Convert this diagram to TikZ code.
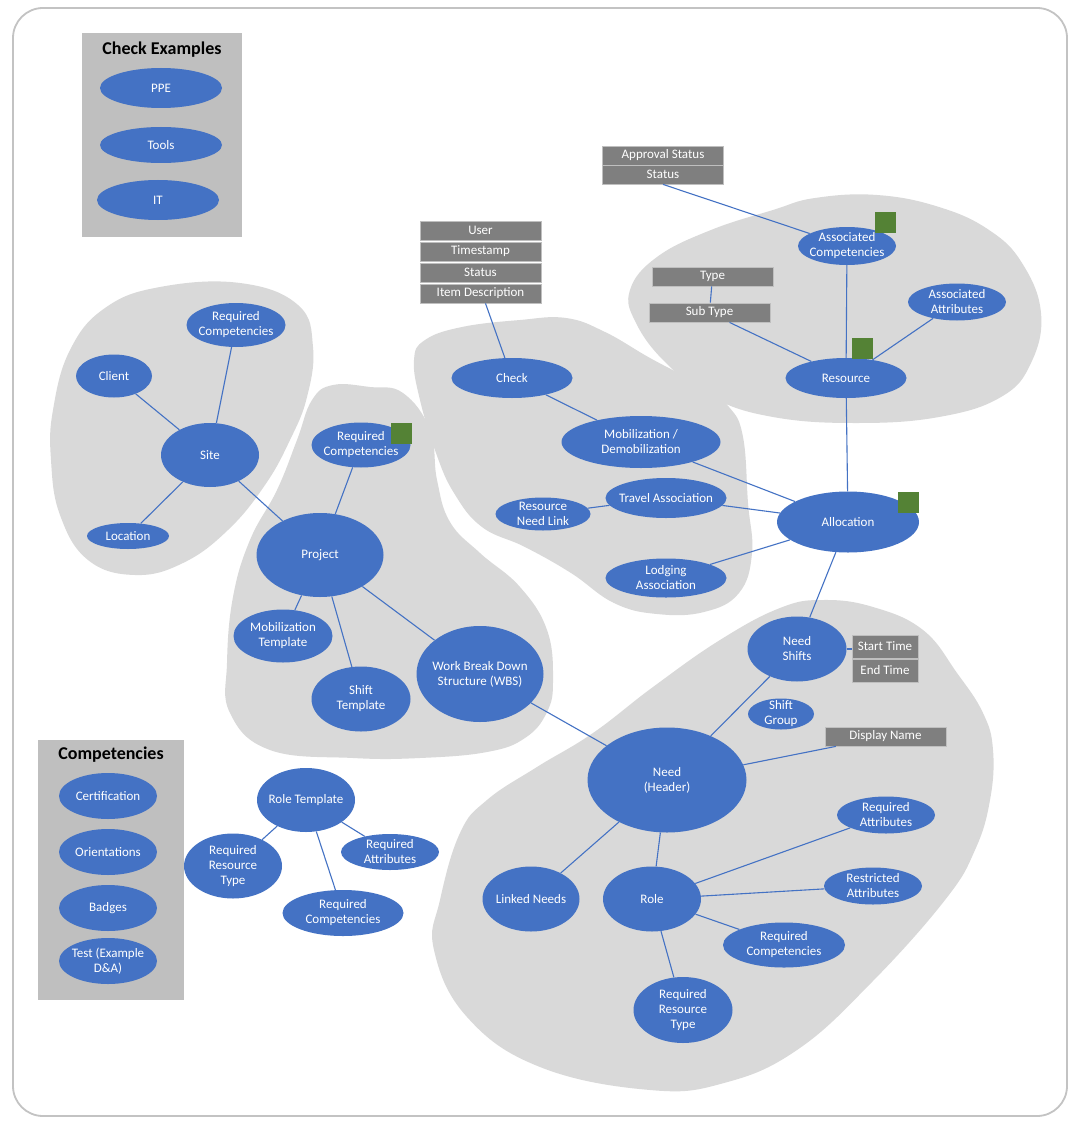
\documentclass[tikz,border=0pt]{standalone}
\usepackage{fontspec}
\setmainfont{Carlito}
\usetikzlibrary{shapes.geometric}
\definecolor{oblue}{RGB}{68,114,196}
\definecolor{blobgray}{RGB}{217,217,217}
\definecolor{leggray}{RGB}{191,191,191}
\definecolor{boxgray}{RGB}{127,127,127}
\definecolor{sqgreen}{RGB}{84,130,53}
\definecolor{framegray}{RGB}{195,195,195}
\tikzset{
  ent/.style={ellipse, fill=oblue, text=white, inner sep=-8pt, align=center,
    font=\fontsize{13}{15}\selectfont},
  attr/.style={rectangle, fill=boxgray, draw=leggray, line width=0.8pt, text=white,
    inner sep=0pt, font=\fontsize{13}{15}\selectfont, minimum height=19, minimum width=121},
  gsq/.style={rectangle, fill=sqgreen, inner sep=0pt, minimum size=21},
  conn/.style={draw=oblue, line width=1.1pt},
  blob/.style={fill=blobgray, draw=none},
  legend/.style={rectangle, fill=leggray, inner sep=0pt},
  legtitle/.style={font=\fontsize{18}{21}\selectfont\bfseries, text=black}
}
\begin{document}
\begin{tikzpicture}[x=1pt,y=-1pt]
\useasboundingbox (0,0) rectangle (1080,1134);
\fill[white] (0,0) rectangle (1080,1134);
\draw[framegray, line width=1.8pt, rounded corners=30] (13,8) rectangle (1067,1116);

% blobs
\path[blob] plot[smooth cycle, tension=0.7] coordinates {(240,283) (298,305) (313,347) (307,397) (290,440) (265,485) (228,530) (183,563) (135,575) (88,560) (60,515) (51,460) (53,410) (70,350) (105,308) (160,287)};
\path[blob] plot[smooth cycle, tension=0.7] coordinates {(333,385) (370,387) (403,393) (430,430) (437,480) (450,522) (480,553) (520,587) (547,630) (553,680) (547,712) (525,738) (487,752) (420,758) (353,758) (270,750) (230,713) (227,663) (233,597) (250,540) (277,490) (297,440) (312,400)};
\path[blob] plot[smooth cycle, tension=0.7] coordinates {(414,360) (420,400) (436,453) (454,493) (482,527) (525,547) (571,573) (614,603) (657,614) (704,612) (739,593) (752,553) (748,503) (743,437) (729,407) (700,385) (650,358) (605,332) (566,318) (520,320) (462,327) (425,340)};
\path[blob] plot[smooth cycle, tension=0.7] coordinates {(630,290) (657,257) (711,230) (773,210) (815,198) (877,195) (939,207) (989,230) (1022,263) (1041,313) (1031,363) (1001,397) (939,417) (856,423) (773,417) (711,397) (666,363) (636,323)};
\path[blob] plot[smooth cycle, tension=0.7] coordinates {(823,600) (873,607) (923,630) (957,673) (983,713) (993,750) (990,800) (975,850) (945,900) (871,983) (797,1050) (724,1083) (650,1090) (540,1067) (467,1017) (434,950) (440,900) (460,833) (487,800) (537,767) (593,733) (653,687) (720,640) (780,608)};

% legends
\node[legend, minimum width=160, minimum height=204] (chkbox) at (162,135) {};
\node[legtitle] (chktitle) at (162,50) {Check Examples};
\node[ent, minimum width=122, minimum height=40] (ppe) at (161,88) {PPE};
\node[ent, minimum width=122, minimum height=36] (tools) at (161,145) {Tools};
\node[ent, minimum width=122, minimum height=40] (it) at (158,200) {IT};

\node[legend, minimum width=146, minimum height=260] (compbox) at (111,870) {};
\node[legtitle] (comptitle) at (111,755) {Competencies};
\node[ent, minimum width=98, minimum height=46] (cert) at (108,796) {Certification};
\node[ent, minimum width=98, minimum height=46] (orient) at (108,852) {Orientations};
\node[ent, minimum width=98, minimum height=46] (badges) at (108,908) {Badges};
\node[ent, minimum width=98, minimum height=46] (test) at (108,961) {Test (Example\\D\&A)};

% attribute boxes
\node[attr] (appr) at (663,155.5) {Approval Status};
\node[attr] (status) at (663,174.5) {Status};
\node[attr] (user) at (480.5,230.5) {User};
\node[attr] (tstamp) at (480.5,251.5) {Timestamp};
\node[attr] (cstatus) at (480.5,272.5) {Status};
\node[attr] (itemdesc) at (480.5,293.5) {Item Description};
\node[attr] (type) at (712.5,276.5) {Type};
\node[attr] (subtype) at (709.5,312.5) {Sub Type};
\node[attr, minimum width=66, minimum height=23] (start) at (885,646.5) {Start Time};
\node[attr, minimum width=66, minimum height=23] (endt) at (885,670.5) {End Time};
\node[attr] (dispname) at (885.5,736.5) {Display Name};

% site group
\node[ent, minimum width=99, minimum height=44] (sreq) at (236,325) {Required\\Competencies};
\node[ent, minimum width=76, minimum height=43] (client) at (114,376) {Client};
\node[ent, minimum width=98, minimum height=64] (site) at (210,455) {Site};
\node[ent, minimum width=82, minimum height=26] (location) at (128,536) {Location};

% project group
\node[ent, minimum width=99, minimum height=45] (preq) at (361,445) {Required\\Competencies};
\node[gsq] (g1) at (401.5,433) {};
\node[ent, minimum width=127, minimum height=84] (project) at (320,555) {Project};
\node[ent, minimum width=99, minimum height=53] (mobt) at (283,636) {Mobilization\\Template};
\node[ent, minimum width=99, minimum height=65] (shiftt) at (361,699) {Shift\\Template};
\node[ent, minimum width=127, minimum height=96] (wbs) at (480,674) {Work Break Down\\Structure (WBS)};

% check group
\node[ent, minimum width=121, minimum height=40] (check) at (512,378) {Check};
\node[ent, minimum width=159, minimum height=52] (mob) at (641,442) {Mobilization /\\Demobilization};
\node[ent, minimum width=121, minimum height=40] (travel) at (666,498) {Travel Association};
\node[ent, minimum width=95, minimum height=33] (rnl) at (543,514) {Resource\\Need Link};
\node[ent, minimum width=121, minimum height=39] (lodging) at (666,578) {Lodging\\Association};
\node[ent, minimum width=142, minimum height=61] (alloc) at (848,522) {Allocation};
\node[gsq] (g2) at (908,502.5) {};

% resource group
\node[ent, minimum width=98, minimum height=38] (ac) at (847,246) {Associated\\Competencies};
\node[gsq] (g3) at (885,222) {};
\node[ent, minimum width=98, minimum height=37] (aa) at (957,302) {Associated\\Attributes};
\node[ent, minimum width=121, minimum height=40] (resource) at (846,378) {Resource};
\node[gsq] (g4) at (862,348.5) {};

% need group
\node[ent, minimum width=99, minimum height=65] (nshifts) at (797,649) {Need\\Shifts};
\node[ent, minimum width=66, minimum height=31] (sgroup) at (781,714) {Shift\\Group};
\node[ent, minimum width=159, minimum height=105] (need) at (667,780) {Need\\(Header)};
\node[ent, minimum width=97, minimum height=65] (linked) at (531,899) {Linked Needs};
\node[ent, minimum width=98, minimum height=65] (role) at (652,899) {Role};
\node[ent, minimum width=98, minimum height=37] (nreqattr) at (886,815) {Required\\Attributes};
\node[ent, minimum width=98, minimum height=37] (restr) at (873,886) {Restricted\\Attributes};
\node[ent, minimum width=122, minimum height=45] (nreqcomp) at (784,945) {Required\\Competencies};
\node[ent, minimum width=99, minimum height=66] (nrrt) at (683,1010) {Required\\Resource\\Type};

% role template group
\node[ent, minimum width=98, minimum height=64] (rtempl) at (306,800) {Role Template};
\node[ent, minimum width=98, minimum height=65] (trrt) at (233,866) {Required\\Resource\\Type};
\node[ent, minimum width=98, minimum height=36] (treqattr) at (390,852) {Required\\Attributes};
\node[ent, minimum width=121, minimum height=46] (treqcomp) at (343,913) {Required\\Competencies};

% connectors
\path[conn] (client) -- (site);
\path[conn] (sreq) -- (site);
\path[conn] (site) -- (location);
\path[conn] (site) -- (project);
\path[conn] (preq) -- (project);
\path[conn] (project) -- (mobt);
\path[conn] (project) -- (shiftt);
\path[conn] (project) -- (wbs);
\path[conn] (wbs) -- (need);
\path[conn] ([xshift=5]itemdesc.south) -- (check);
\path[conn] (check) -- (mob);
\path[conn] (mob) -- (alloc);
\path[conn] (travel) -- (alloc);
\path[conn] (rnl) -- (travel);
\path[conn] (lodging) -- (alloc);
\path[conn] (status.south) -- (ac);
\path[conn] (ac) -- (resource);
\path[conn] (type) -- (subtype);
\path[conn] ([xshift=20]subtype.south) -- (resource);
\path[conn] (aa) -- (resource);
\path[conn] (resource) -- (alloc);
\path[conn] (alloc) -- (nshifts);
\path[conn] (need) -- (nshifts);
\path[conn] (nshifts.east) -- (nshifts.east -| start.west);
\path[conn] (need) -- (dispname);
\path[conn] (need) -- (linked);
\path[conn] (need) -- (role);
\path[conn] (role) -- (nreqattr);
\path[conn] (role) -- (restr);
\path[conn] (role) -- (nreqcomp);
\path[conn] (role) -- (nrrt);
\path[conn] (rtempl) -- (trrt);
\path[conn] (rtempl) -- (treqattr);
\path[conn] (rtempl) -- (treqcomp);
\end{tikzpicture}
\end{document}
